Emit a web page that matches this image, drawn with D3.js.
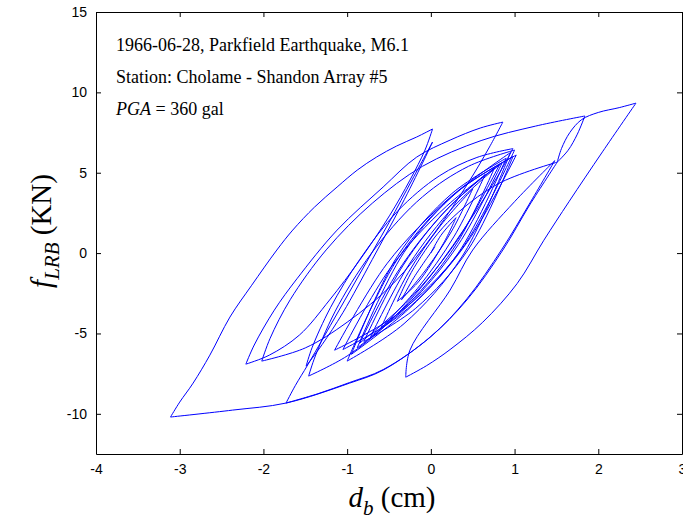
<!DOCTYPE html>
<html>
<head>
<meta charset="utf-8">
<script src="https://cdn.jsdelivr.net/npm/d3@7"></script>
<style>
  body { margin: 0; background: #fff; }
  svg { display: block; }
</style>
</head>
<body>
<div id="chart"></div>
<script>
// axis ticks
const xTicks = [-4, -3, -2, -1, 0, 1, 2, 3];
const yTicks = [-10, -5, 0, 5, 10, 15];

// annotation lines
const eventLine = "1966-06-28, Parkfield Earthquake, M6.1";
const stationLine = "Station: Cholame - Shandon Array #5";
const pgaValue = "360 gal";

// bearing response, [d_b (cm), f_LRB (KN)] in time order
// first cycles and the first large swing to the negative side
const earlyPath = [
  [0, 0], [0.12, 1.1], [0.3, 2.2],
  [0.15, 0.6], [-0.15, -1.8], [-0.4, -3.0],
  [-0.2, -0.9], [0.2, 1.9], [0.8, 4.3], [1.51, 5.66],
  [1.18, 2.99], [0.86, 0.19], [0.43, -2.92], [-0.01, -5.23], [-0.57, -7.28],
  [-0.97, -8.09], [-1.73, -9.33], [-2.37, -9.77], [-3.11, -10.20]
];

// big excursions
const outerPath = [
  [-3.00, -9.27], [-2.84, -8.09], [-2.64, -6.35], [-2.40, -3.98], [-2.14, -2.0],
  [-1.84, 0.19], [-1.65, 1.43], [-1.39, 2.86], [-1.12, 4.11], [-0.88, 5.16],
  [-0.65, 5.97], [-0.41, 6.66], [-0.17, 7.22], [0.02, 7.72],
  [-0.07, 6.41], [-0.25, 4.54], [-0.49, 2.36], [-0.85, -0.44], [-1.21, -2.92],
  [-1.57, -5.10], [-1.93, -6.35], [-2.21, -6.91],
  [-2.11, -5.72], [-1.87, -3.55], [-1.60, -1.6], [-1.12, 1.43], [-0.57, 4.11],
  [-0.17, 5.97], [0.23, 7.03], [0.59, 7.78], [0.86, 8.15],
  [0.70, 6.6], [0.45, 4.4], [0.05, 1.3], [-0.45, -1.9], [-1.0, -4.3],
  [-1.5, -5.9], [-2.02, -6.72],
  [-1.92, -5.3], [-1.68, -2.9], [-1.25, 0.2], [-0.7, 3.1], [-0.1, 5.4],
  [0.6, 7.0], [1.25, 7.9], [1.84, 8.53],
  [1.75, 7.4], [1.64, 6.4], [1.51, 5.66],
  [1.56, 6.5], [1.66, 7.5], [1.80, 8.3], [2.0, 8.75], [2.25, 9.05], [2.45, 9.33],
  [2.05, 6.3], [1.65, 3.2], [1.35, 0.8], [1.03, -1.9], [0.62, -4.3],
  [0.23, -6.0], [-0.05, -7.0], [-0.30, -7.72],
  [-0.25, -6.04], [0.23, -2.3], [0.50, 0.19], [1.0, 3.2], [1.48, 5.75],
  [1.17, 3.0], [0.85, 0.25], [0.43, -2.85], [0.0, -5.2], [-0.57, -7.25],
  [-0.97, -8.05], [-1.35, -8.75], [-1.73, -9.33],
  [-1.62, -8.25], [-1.47, -6.95], [-1.2, -4.5], [-0.85, -1.3], [-0.5, 1.9],
  [-0.22, 4.6], [0.02, 6.91],
  [-0.1, 5.6], [-0.35, 3.0], [-0.7, -0.4], [-1.05, -3.7], [-1.3, -5.7], [-1.49, -7.03],
  [-1.42, -5.9], [-1.2, -3.4], [-0.85, -0.4], [-0.4, 2.6], [0.1, 4.8], [0.55, 5.95], [0.98, 6.5],
  [0.8, 4.8], [0.5, 2.3], [0.0, -1.4], [-0.5, -4.3], [-1.0, -6.4], [-1.46, -7.65],
  [-1.38, -6.4], [-1.1, -3.2], [-0.65, 0.4], [-0.1, 3.5], [0.45, 5.4]
];

// decaying cycles in the middle
const clusterPath = [
  [1.00, 6.41],
  [0.36, 0.19], [-0.40, -3.80], [-1.15, -6.04],
  [-0.52, -0.63], [0.22, 3.42], [0.95, 6.25],
  [0.37, -0.24], [-0.32, -4.39], [-1.00, -6.72],
  [-0.39, -0.31], [0.31, 3.79], [1.02, 6.1],
  [0.43, 0.64], [-0.26, -3.45], [-0.95, -6.3],
  [-0.40, -0.20], [0.25, 3.70], [0.90, 5.9],
  [0.32, -0.05], [-0.37, -3.86], [-1.05, -6.0],
  [-0.48, -0.90], [0.19, 2.93], [0.85, 5.6],
  [0.33, 0.54], [-0.27, -3.26], [-0.88, -5.9],
  [-0.32, 0.05], [0.33, 3.86], [0.98, 6.0],
  [0.45, 0.25], [-0.18, -3.43], [-0.80, -5.5],
  [-0.33, -0.75], [0.21, 2.82], [0.76, 5.3],
  [0.32, 0.68], [-0.20, -2.79], [-0.72, -5.2],
  [-0.26, -0.71], [0.28, 2.93], [0.82, 5.5],
  [0.32, 0.84], [-0.27, -2.94], [-0.85, -5.6],
  [-0.40, -1.19], [0.13, 2.38], [0.65, 4.9],
  [0.28, 1.06], [-0.16, -2.20], [-0.60, -4.7],
  [-0.27, -1.22], [0.12, 1.74], [0.50, 4.0],
  [0.25, 1.38], [-0.05, -0.97], [-0.35, -2.9],
  [-0.2, -1.5], [0.05, 0.4]
];

// cut the trajectory where the displacement turns round
function splitBranches(pts) {
  const out = [];
  let cur = [pts[0]], dir = 0;
  for (let i = 1; i < pts.length; i++) {
    const s = Math.sign(pts[i][0] - pts[i - 1][0]);
    if (dir !== 0 && s !== 0 && s !== dir) {
      out.push(cur);
      cur = [pts[i - 1]];
    }
    if (s !== 0) dir = s;
    cur.push(pts[i]);
  }
  out.push(cur);
  return out;
}

function drawLoops() {
  const W = 683, H = 531;
  const margin = {top: 12, right: 1, bottom: 77, left: 96},
      width = W - margin.left - margin.right,
      height = H - margin.top - margin.bottom;

  const svg = d3.select("#chart")
    .append("svg")
      .attr("width", W)
      .attr("height", H);

  const g = svg.append("g")
      .attr("transform", `translate(${margin.left}, ${margin.top})`);

  const x = d3.scaleLinear().domain([-4, 3]).range([0, width]);
  const y = d3.scaleLinear().domain([-12.5, 15]).range([height, 0]);

  // hysteresis curve
  const line = d3.line()
      .x(d => x(d[0]))
      .y(d => y(d[1]))
      .curve(d3.curveCatmullRom.alpha(0.5));

  const path = earlyPath.concat(outerPath, clusterPath);
  g.append("g")
    .selectAll("path")
    .data(splitBranches(path))
    .enter()
    .append("path")
      .attr("d", line)
      .attr("fill", "none")
      .attr("stroke", "#0000ff")
      .attr("stroke-width", 1)
      .attr("stroke-linejoin", "round");

  // axes, MATLAB style box with inward ticks
  const tickFont = "'Liberation Sans', Arial, sans-serif";
  const fmt = d => String(d);
  const bottom = g.append("g")
      .attr("transform", `translate(0, ${height})`)
      .call(d3.axisBottom(x).tickValues(xTicks).tickFormat(fmt)
        .tickSizeInner(-5).tickSizeOuter(0).tickPadding(10));
  const left = g.append("g")
      .call(d3.axisLeft(y).tickValues(yTicks).tickFormat(fmt)
        .tickSizeInner(-5).tickSizeOuter(0).tickPadding(9));
  const top = g.append("g")
      .call(d3.axisTop(x).tickValues(xTicks).tickSizeInner(-5).tickSizeOuter(0).tickFormat(""));
  const right = g.append("g")
      .attr("transform", `translate(${width}, 0)`)
      .call(d3.axisRight(y).tickValues(yTicks).tickSizeInner(-5).tickSizeOuter(0).tickFormat(""));

  [bottom, left, top, right].forEach(a => {
    a.select(".domain").attr("stroke", "#000").attr("stroke-width", 1);
    a.selectAll(".tick line").attr("stroke", "#000");
    a.selectAll("text")
      .attr("fill", "#000")
      .style("font-family", tickFont)
      .style("font-size", "14px");
  });

  // annotation
  const serif = "'Liberation Serif', 'Times New Roman', serif";
  const info = g.append("g")
      .style("font-family", serif)
      .style("font-size", "18px")
      .attr("fill", "#000");
  info.append("text").attr("x", 20).attr("y", 39).text(eventLine);
  info.append("text").attr("x", 20).attr("y", 71).text(stationLine);
  const pga = info.append("text").attr("x", 20).attr("y", 103);
  pga.append("tspan").style("font-style", "italic").text("PGA");
  pga.append("tspan").text(" = " + pgaValue);

  // axis labels
  const xl = svg.append("text")
      .attr("x", 392)
      .attr("y", 507)
      .attr("text-anchor", "middle")
      .style("font-family", serif)
      .style("font-size", "29px");
  xl.append("tspan").style("font-style", "italic").text("d");
  xl.append("tspan").style("font-style", "italic").style("font-size", "21px").attr("dy", 8).text("b");
  xl.append("tspan").attr("dy", -8).text(" (cm)");

  const yl = svg.append("text")
      .attr("transform", "translate(51, 231) rotate(-90)")
      .attr("text-anchor", "middle")
      .style("font-family", serif)
      .style("font-size", "29px");
  yl.append("tspan").style("font-style", "italic").text("f");
  yl.append("tspan").style("font-style", "italic").style("font-size", "21px").attr("dy", 8).text("LRB");
  yl.append("tspan").attr("dy", -8).text(" (KN)");
}

drawLoops();
</script>
</body>
</html>
